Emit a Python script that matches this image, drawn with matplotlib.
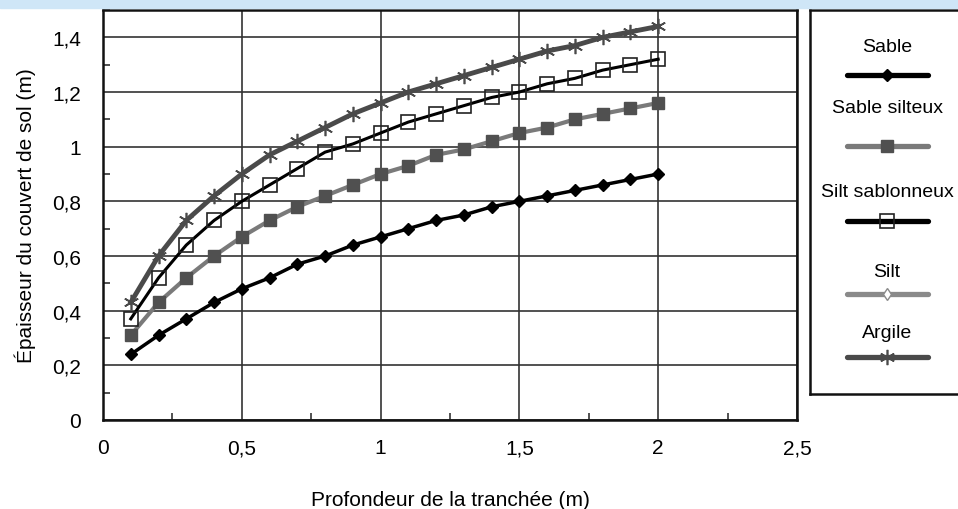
import matplotlib
matplotlib.use("Agg")
import matplotlib.pyplot as plt
from matplotlib.lines import Line2D
from matplotlib.patches import Rectangle
from matplotlib.ticker import MultipleLocator, FuncFormatter

plt.rcParams["font.family"] = ["Liberation Sans", "DejaVu Sans"]
plt.rcParams["font.size"] = 15

# Data
profondeur = [0.1, 0.2, 0.3, 0.4, 0.5, 0.6, 0.7, 0.8, 0.9, 1.0,
              1.1, 1.2, 1.3, 1.4, 1.5, 1.6, 1.7, 1.8, 1.9, 2.0]
sable = [0.24, 0.31, 0.37, 0.43, 0.48, 0.52, 0.57, 0.60, 0.64, 0.67,
         0.70, 0.73, 0.75, 0.78, 0.80, 0.82, 0.84, 0.86, 0.88, 0.90]
sable_silteux = [0.31, 0.43, 0.52, 0.60, 0.67, 0.73, 0.78, 0.82, 0.86, 0.90,
                 0.93, 0.97, 0.99, 1.02, 1.05, 1.07, 1.10, 1.12, 1.14, 1.16]
silt_sablonneux = [0.37, 0.52, 0.64, 0.73, 0.80, 0.86, 0.92, 0.98, 1.01, 1.05,
                   1.09, 1.12, 1.15, 1.18, 1.20, 1.23, 1.25, 1.28, 1.30, 1.32]
argile = [0.43, 0.60, 0.73, 0.82, 0.90, 0.97, 1.02, 1.07, 1.12, 1.16,
          1.20, 1.23, 1.26, 1.29, 1.32, 1.35, 1.37, 1.40, 1.42, 1.44]
labels = ["Sable", "Sable silteux", "Silt sablonneux", "Silt", "Argile"]

# line / marker styles per soil type (Silt has no visible curve)
styles = {
    "Sable": dict(color="black", lw=2.5, marker="D", ms=6.5, mfc="black", mec="black"),
    "Sable silteux": dict(color="#7a7a7a", lw=3, marker="s", ms=9, mfc="#505050", mec="#505050"),
    "Silt sablonneux": dict(color="black", lw=2.2, marker="s", ms=10, mfc="none", mec="#222222", mew=1.2),
    "Silt": dict(color="#8a8a8a", lw=3.5, marker="d", ms=6, mfc="white", mec="#8a8a8a"),
    "Argile": dict(color="#4a4a4a", lw=3.5, marker=(6, 2, 0), ms=11, mfc="#4a4a4a", mec="#4a4a4a", mew=1.2),
}

fig = plt.figure(figsize=(9.58, 5.10), dpi=100)

# light blue band at the top of the page
fig.patches.append(Rectangle((0, 1 - 9 / 510), 1, 9 / 510, transform=fig.transFigure,
                             color="#cfe6f7", zorder=0))

ax = fig.add_axes([103 / 958, 89 / 510, 694 / 958, 410 / 510])

series = {"Sable": sable, "Sable silteux": sable_silteux,
          "Silt sablonneux": silt_sablonneux, "Argile": argile}
for name in ["Sable", "Sable silteux", "Argile", "Silt sablonneux"]:
    ax.plot(profondeur, series[name], zorder=3, **styles[name])

ax.set_xlim(0, 2.5)
ax.set_ylim(0, 1.5)
ax.xaxis.set_major_locator(MultipleLocator(0.5))
ax.xaxis.set_minor_locator(MultipleLocator(0.25))
ax.yaxis.set_major_locator(MultipleLocator(0.2))
ax.yaxis.set_minor_locator(MultipleLocator(0.1))
comma = FuncFormatter(lambda v, p: f"{v:g}".replace(".", ","))
ax.xaxis.set_major_formatter(comma)
ax.yaxis.set_major_formatter(comma)
ax.set_yticks([0, 0.2, 0.4, 0.6, 0.8, 1.0, 1.2, 1.4])

ax.tick_params(which="major", length=0, pad=16)
ax.tick_params(axis="x", which="major", pad=13)
ax.tick_params(which="minor", direction="in", length=5, width=1.2, color="#333333")
ax.grid(True, which="major", color="#333333", lw=1.2)
for sp in ax.spines.values():
    sp.set_linewidth(1.8)
    sp.set_color("#111111")

ax.set_xlabel("Profondeur de la tranchée (m)", labelpad=24)
ax.set_ylabel("Épaisseur du couvert de sol (m)", labelpad=11)

# legend box: label above each sample line, cut by the right edge
lg = fig.add_axes([810 / 958, 115 / 510, 200 / 958, 384 / 510])
lg.set_xlim(0, 200)
lg.set_ylim(384, 0)
lg.set_xticks([])
lg.set_yticks([])
for sp in lg.spines.values():
    sp.set_linewidth(1.8)
    sp.set_color("#111111")
text_y = [36, 98, 182, 262, 323]
line_y = [65, 136, 211, 284, 347]
for name, ty, ly in zip(labels, text_y, line_y):
    st = dict(styles[name])
    lg.text(77, ty, name, ha="center", va="center", fontsize=14)
    lg.add_line(Line2D([37, 118], [ly, ly], color=st["color"], lw=3.8,
                       solid_capstyle="round"))
    st["lw"] = 0
    lg.add_line(Line2D([77], [ly], **st))

fig.savefig("out.png", dpi=100)
